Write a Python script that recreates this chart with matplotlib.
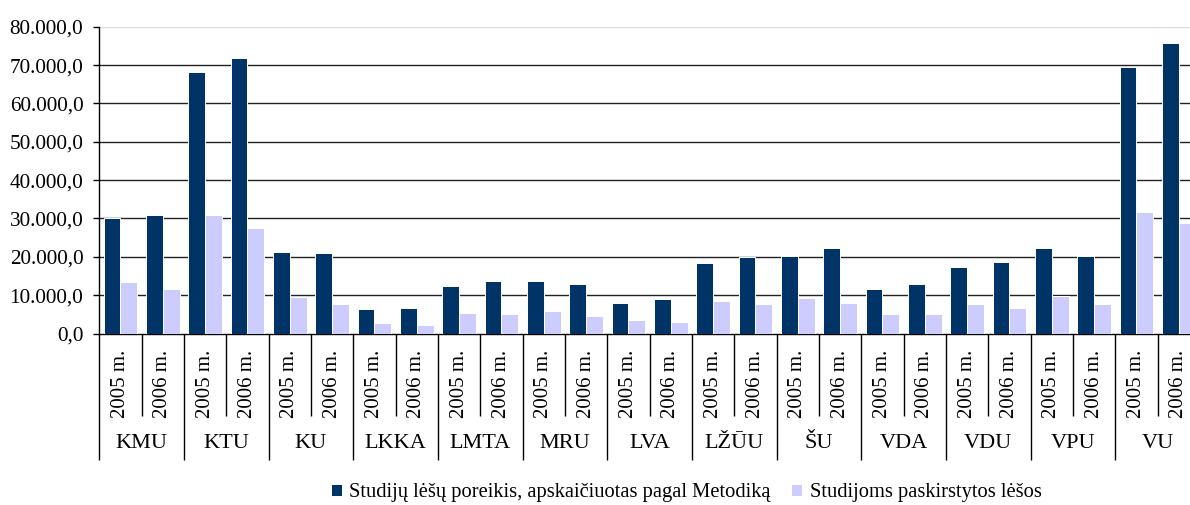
import matplotlib
matplotlib.use("Agg")
import matplotlib.pyplot as plt
import numpy as np
from matplotlib.ticker import FixedLocator, FuncFormatter

universities = ["KMU", "KTU", "KU", "LKKA", "LMTA", "MRU", "LVA", "LŽŪU", "ŠU", "VDA", "VDU", "VPU", "VU"]
years = ["2005 m.", "2006 m."]

# Studijų lėšų poreikis (2005, 2006 per university)
need = [30200, 31000, 68250, 71750, 21300, 20900, 6300, 6700, 12400, 13700,
        13700, 12900, 8000, 8900, 18500, 19900, 20300, 22200, 11600, 12900,
        17300, 18600, 22200, 20300, 69550, 75700]
# Studijoms paskirstytos lėšos
alloc = [13300, 11600, 31000, 27500, 9400, 7600, 2800, 2200, 5300, 5000,
         5800, 4500, 3600, 3100, 8400, 7600, 9300, 8000, 5000, 5000,
         7600, 6700, 9800, 7600, 31600, 28900]

series_names = ["Studijų lėšų poreikis, apskaičiuotas pagal Metodiką",
                "Studijoms paskirstytos lėšos"]
dark = "#003366"
light = "#CCCCFF"

plt.rcParams['font.family'] = ['Liberation Serif', 'DejaVu Serif']

W, H = 1190, 505
fig = plt.figure(figsize=(W / 100, H / 100), dpi=100)
x0, x1 = 99.3, 1200.0
y0, y1 = 333.5, 26.7
ax = fig.add_axes([x0 / W, 1 - y0 / H, (x1 - x0) / W, (y0 - y1) / H])

n = len(need)
pos = np.arange(n) + 0.5
bw = 0.4
ax.bar(pos - bw / 2, need, width=bw, color=dark, edgecolor="white", linewidth=0.7,
       zorder=3, label=series_names[0])
ax.bar(pos + bw / 2, alloc, width=bw, color=light, edgecolor="white", linewidth=0.7,
       zorder=3, label=series_names[1])

ax.set_xlim(0, n)
ax.set_ylim(0, 80000)

yt = np.arange(0, 80001, 10000)
ax.set_yticks(yt)
ax.yaxis.set_major_formatter(FuncFormatter(
    lambda v, p: f"{v:,.1f}".replace(",", "X").replace(".", ",").replace("X", ".")))
ax.tick_params(axis="y", labelsize=15.3, length=4.5, width=1, pad=7, direction="out", color="black")
for v in yt[1:]:
    ax.axhline(v, color="#dddddd" if v == 80000 else "#222222", lw=1, zorder=1)

for s in ["top", "right"]:
    ax.spines[s].set_visible(False)
ax.spines["left"].set_color("black")
ax.spines["bottom"].set_color("black")
ax.spines["left"].set_linewidth(1)
ax.spines["bottom"].set_linewidth(1)

# x axis: group separators as long ticks, year separators as short ticks
ax.xaxis.set_major_locator(FixedLocator(np.arange(0, n + 1, 2)))
ax.xaxis.set_minor_locator(FixedLocator(np.arange(1, n, 2)))
ax.tick_params(axis="x", which="major", length=(459.3 - 333.5) * 0.72, width=1,
               color="black", labelbottom=False)
ax.tick_params(axis="x", which="minor", length=(415.7 - 333.5) * 0.72, width=1,
               color="black", labelbottom=False)

for i, p in enumerate(pos):
    ax.annotate(years[i % 2], xy=(p, 0), xycoords=("data", "axes fraction"),
                xytext=(0, -(384 - 333.5) * 0.72), textcoords="offset points",
                rotation=90, ha="center", va="center", fontsize=15)
for g, u in enumerate(universities):
    ax.annotate(u, xy=(2 * g + 1, 0), xycoords=("data", "axes fraction"),
                xytext=(0, -(444 - 333.5) * 0.72), textcoords="offset points",
                ha="center", va="center", fontsize=16)

fig.legend(loc="center", bbox_to_anchor=(686 / W, 1 - 493 / H), ncol=2, frameon=False,
           fontsize=14.8, handlelength=0.55, handleheight=0.55, handletextpad=0.35,
           columnspacing=1.0, borderaxespad=0)

fig.savefig("out.png", dpi=100)
